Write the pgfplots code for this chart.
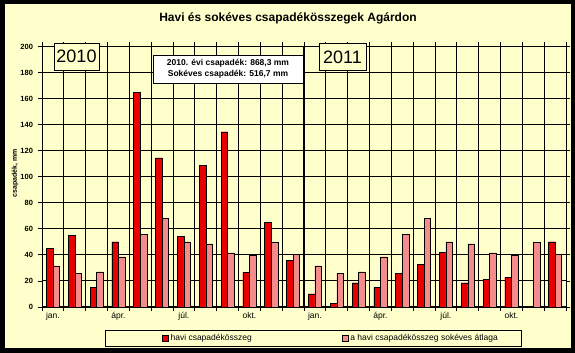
\documentclass[border=0pt]{standalone}
\usepackage{fontspec}
\setmainfont{Liberation Sans}
\usepackage{pgfplots}
\pgfplotsset{compat=1.18}
\definecolor{bgy}{RGB}{255,255,204}
\definecolor{barred}{RGB}{230,0,0}
\definecolor{hatchpink}{RGB}{244,140,140}
\pgfplotsset{mylegend/.style={legend image code/.code={\draw[##1] (0pt,-3pt) rectangle (6pt,3pt);}}}
\begin{document}
\begin{tikzpicture}[x=1pt,y=1pt]
\fill[bgy] (0,0) rectangle (575,353);
\useasboundingbox (0,0) rectangle (575,353);
\draw[line width=0.8pt] (105,7) rectangle (521,23);
\begin{axis}[
  at={(42pt,46pt)}, anchor=south west, scale only axis,
  width=524pt, height=260.5pt,
  xmin=-0.5, xmax=23.5, ymin=0, ymax=200,
  ytick={0,20,...,200},
  xtick={0,3,6,9,12,15,18,21},
  xticklabels={jan.,ápr.,júl.,okt.,jan.,ápr.,júl.,okt.},
  minor xtick={-0.5,0.5,...,23.5},
  xminorgrids=true, ymajorgrids=true, xmajorgrids=false,
  major grid style={black, line width=0.9pt},
  minor grid style={black, line width=0.9pt},
  axis line style={black, line width=1pt},
  tick style={black, line width=0.8pt},
  tick align=outside, major tick length=4pt, minor tick length=4pt,
  major x tick style={draw=none},
  xticklabel style={font=\fontsize{8.5}{10}\selectfont, yshift=2pt},
  /pgf/number format/assume math mode=true,
  yticklabel style={font=\bfseries\fontsize{7.5}{9}\selectfont, xshift=-1.5pt},
  ybar, bar width=0.3,
  legend style={draw=none, fill=none, at={(0.223,-0.119)}, anchor=west,
     legend columns=2, font=\fontsize{8.5}{10}\selectfont,
     /tikz/every even column/.append style={column sep=88pt}},
]
\addplot[mylegend, bar shift=-0.15, fill=barred, draw=black, line width=0.5pt] coordinates {
 (0,45) (1,55) (2,15) (3,50) (4,165) (5,114.5) (6,54) (7,108.5) (8,134.5) (9,26.5) (10,65) (11,36)
 (12,10) (13,3) (14,18.5) (15,15) (16,26) (17,32.5) (18,42) (19,18.5) (20,21) (21,23) (23,50)
};
\addlegendentry{havi csapadékösszeg}
\addplot[mylegend, bar shift=0.15, draw=black, line width=0.5pt, fill=hatchpink] coordinates {
 (0,31.5) (1,26) (2,27) (3,38.5) (4,56) (5,68) (6,50) (7,48.5) (8,41.5) (9,39.5) (10,49.5) (11,40.5)
 (12,31.5) (13,26) (14,27) (15,38.5) (16,56) (17,68) (18,50) (19,48.5) (20,41.5) (21,39.5) (22,49.5) (23,40.5)
};
\addlegendentry{a havi csapadékösszeg sokéves átlaga}
\pgfplotsinvokeforeach{20,40,...,200}{
  \draw[black, line width=0.9pt] (axis cs:-0.5,#1) -- (axis cs:23.5,#1);
}
\pgfplotsinvokeforeach{0.5,1.5,...,23.5}{
  \draw[black, line width=0.9pt] (axis cs:#1,0) -- (axis cs:#1,200);
}
\draw[line width=2pt] (axis cs:11.5,0) -- (axis cs:11.5,200);
\addplot[forget plot, bar shift=-0.15, fill=barred, draw=black, line width=0.5pt] coordinates {
 (0,45) (1,55) (2,15) (3,50) (4,165) (5,114.5) (6,54) (7,108.5) (8,134.5) (9,26.5) (10,65) (11,36)
 (12,10) (13,3) (14,18.5) (15,15) (16,26) (17,32.5) (18,42) (19,18.5) (20,21) (21,23) (23,50)
};
\addplot[forget plot, bar shift=0.15, draw=black, line width=0.5pt, fill=hatchpink] coordinates {
 (0,31.5) (1,26) (2,27) (3,38.5) (4,56) (5,68) (6,50) (7,48.5) (8,41.5) (9,39.5) (10,49.5) (11,40.5)
 (12,31.5) (13,26) (14,27) (15,38.5) (16,56) (17,68) (18,50) (19,48.5) (20,41.5) (21,39.5) (22,49.5) (23,40.5)
};
\end{axis}
\node[draw=black, fill=bgy, line width=0.8pt, minimum width=45pt, minimum height=27pt, inner sep=0pt,
  font=\fontsize{18}{20}\selectfont] at (76.5,296.5) {2010};
\node[draw=black, fill=bgy, line width=0.8pt, minimum width=47pt, minimum height=27pt, inner sep=0pt,
  font=\fontsize{18}{20}\selectfont] at (342.5,296) {2011};
\node[draw=black, fill=white, line width=0.8pt, minimum width=150pt, minimum height=28pt, inner sep=1pt,
  align=center, font=\bfseries\fontsize{8.5}{11}\selectfont] at (228,284)
  {2010. évi csapadék: 868,3 mm\\Sokéves csapadék: 516,7 mm};
\node[font=\bfseries\fontsize{12}{14}\selectfont] at (288,335) {Havi és sokéves csapadékösszegek Agárdon};
\node[rotate=90, font=\bfseries\fontsize{7}{8}\selectfont] at (15,180) {csapadék, mm};
\draw[line width=4.5pt] (2.25,2.25) rectangle (572.75,350.75);
\end{tikzpicture}
\end{document}
